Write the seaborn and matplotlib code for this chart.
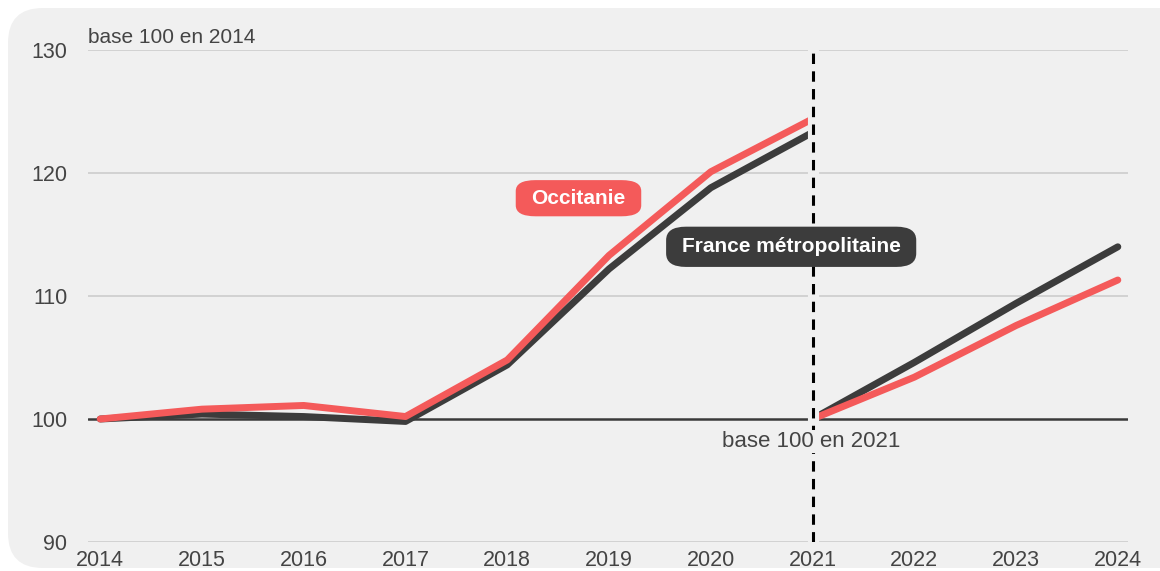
import matplotlib
matplotlib.use("Agg")
import matplotlib.pyplot as plt
from matplotlib.patches import FancyBboxPatch
import pandas as pd
import seaborn as sns

# Indices: first period based 100 in 2014, second period based 100 in 2021
years_p1 = [2014, 2015, 2016, 2017, 2018, 2019, 2020, 2021]
occitanie_p1 = [100.0, 100.8, 101.1, 100.2, 104.8, 113.3, 120.1, 124.4]
france_p1 = [100.0, 100.4, 100.2, 99.8, 104.4, 112.2, 118.8, 123.3]

years_p2 = [2021, 2022, 2023, 2024]
occitanie_p2 = [100.0, 103.4, 107.6, 111.3]
france_p2 = [100.0, 104.6, 109.4, 114.0]

zones = ["France métropolitaine", "Occitanie"]
x_ticks = list(range(2014, 2025))
y_ticks = [90, 100, 110, 120, 130]
break_year = 2021

RED = "#f45a5a"
DARK = "#3c3c3c"
PANEL = "#f0f0f0"
TEXT = "#444444"

rows = []
for zone, p1, p2 in [("France métropolitaine", france_p1, france_p2),
                     ("Occitanie", occitanie_p1, occitanie_p2)]:
    for y, v in zip(years_p1, p1):
        rows.append({"annee": y, "indice": v, "zone": zone, "periode": "2014-2021"})
    for y, v in zip(years_p2, p2):
        rows.append({"annee": y, "indice": v, "zone": zone, "periode": "2021-2024"})
df = pd.DataFrame(rows)

sns.set_theme(style="white")
plt.rcParams["font.family"] = ["Liberation Sans", "DejaVu Sans"]

fig = plt.figure(figsize=(11.6, 5.71), dpi=100, facecolor="white")
W, H = 1160, 571

# rounded light panel behind the chart
panel = FancyBboxPatch((8 / W, 3 / H), 1.2, (563 - 3) / H,
                       boxstyle="round,pad=0,rounding_size=0.03",
                       transform=fig.transFigure, facecolor=PANEL,
                       edgecolor="none", zorder=-5, mutation_aspect=W / H)
fig.patches.append(panel)

ax = fig.add_axes([88 / W, 1 - 542 / H, (1128 - 88) / W, (542 - 50) / H])
ax.set_zorder(2)
ax.set_facecolor("none")

sns.lineplot(data=df, x="annee", y="indice", hue="zone", units="periode",
             estimator=None, hue_order=zones,
             palette={"France métropolitaine": DARK, "Occitanie": RED},
             linewidth=5.0, legend=False, ax=ax, zorder=3,
             solid_capstyle="round", solid_joinstyle="round")

ax.set_xlim(2013.88, 2024.1)
ax.set_ylim(90, 130)
ax.set_xticks(x_ticks)
ax.set_yticks(y_ticks)
ax.set_xlabel("")
ax.set_ylabel("")
for s in ax.spines.values():
    s.set_visible(False)
ax.tick_params(axis="both", length=0, labelsize=15.5, labelcolor=TEXT)
ax.tick_params(axis="y", pad=15)
ax.tick_params(axis="x", pad=5.5)

# horizontal grid, with a darker base line at 100
for y in y_ticks:
    if y == 100:
        ax.axhline(y, color="#3a3a3a", lw=1.8, zorder=2)
    else:
        ax.axhline(y, color="#cfcfcf", lw=1.3, zorder=1)

# break between the two bases
ax.axvline(break_year, color=PANEL, lw=8, zorder=4)
ax.axvline(break_year, color="black", lw=2.2, zorder=5, dashes=(3.4, 2.4))

ax.text(2013.88, 130.25, "base 100 en 2014", fontsize=15, color=TEXT,
        ha="left", va="bottom")
ax.text(break_year - 0.01, 98.2, "base 100 en 2021", fontsize=16, color=TEXT,
        ha="center", va="center", zorder=6,
        bbox=dict(boxstyle="square,pad=0.05", facecolor=PANEL, edgecolor="none"))

ax.text(2018.70, 117.95, "Occitanie", fontsize=15, fontweight="bold",
        color="white", ha="center", va="center", zorder=7,
        bbox=dict(boxstyle="round,pad=0.75,rounding_size=0.95",
                  mutation_aspect=0.55, facecolor=RED, edgecolor="none"))
ax.text(2020.79, 114.0, "France métropolitaine", fontsize=15, fontweight="bold",
        color="white", ha="center", va="center", zorder=7,
        bbox=dict(boxstyle="round,pad=0.75,rounding_size=0.95",
                  mutation_aspect=0.68, facecolor=DARK, edgecolor="none"))

fig.savefig("out.png", dpi=100, facecolor="white")
